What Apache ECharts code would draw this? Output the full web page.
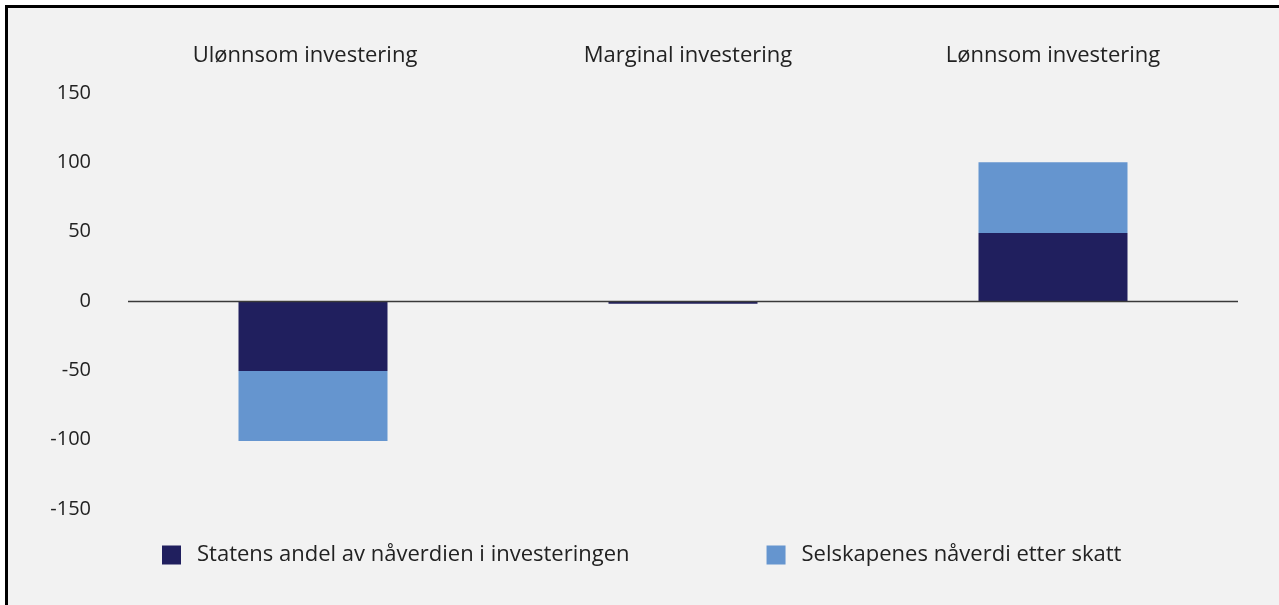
<!DOCTYPE html>
<html>
<head>
<meta charset="utf-8">
<script src="https://cdn.jsdelivr.net/npm/echarts@6/dist/echarts.min.js"></script>
<style>
html,body{margin:0;padding:0;background:#fff;}
#chart{width:1279px;height:605px;}
</style>
</head>
<body>
<div id="chart"></div>
<script>
const categories = ['Ulønnsom investering', 'Marginal investering', 'Lønnsom investering'];
const statensAndel = [-50.5, -2, 49];
const selskapenes = [-50.5, 0, 51];
const seriesNames = ['Statens andel av nåverdien i investeringen', 'Selskapenes nåverdi etter skatt'];
const yTicks = { min: -150, max: 150, interval: 50 };

const font = '"Open Sans", "Noto Sans", sans-serif';
const labelPads = [[0, 16, 0, 0], [0, 0, 0, 10], [0, 0, 0, 0]];
const chart = echarts.init(document.getElementById('chart'), null, { renderer: 'canvas' });
chart.setOption({
  animation: false,
  backgroundColor: '#ffffff',
  graphic: [
    { type: 'rect', z: -10, shape: { x: 5, y: 5, width: 1274, height: 600 }, style: { fill: '#f2f2f2' } },
    { type: 'rect', z: -9, shape: { x: 5, y: 5, width: 1274, height: 3 }, style: { fill: '#000' } },
    { type: 'rect', z: -9, shape: { x: 5, y: 5, width: 3, height: 600 }, style: { fill: '#000' } }
  ],
  grid: { left: 128, right: 41, top: 93, bottom: 96, containLabel: false },
  legend: {
    left: 157, top: 539,
    itemWidth: 19, itemHeight: 19, itemGap: 137,
    icon: 'rect',
    textStyle: { fontFamily: font, fontSize: 22, color: '#222', padding: [0, 0, 0, 11] },
    data: seriesNames
  },
  xAxis: {
    type: 'category',
    position: 'top',
    data: categories.map((c, i) => ({ value: c, textStyle: { padding: labelPads[i] } })),
    axisLine: { show: false, onZero: false },
    axisTick: { show: false },
    axisLabel: { fontFamily: font, fontSize: 22, color: '#222', margin: 26 }
  },
  yAxis: {
    type: 'value',
    min: yTicks.min, max: yTicks.max, interval: yTicks.interval,
    axisLine: { show: false },
    axisTick: { show: false },
    splitLine: { show: false },
    axisLabel: { fontFamily: font, fontSize: 20, color: '#222', margin: 37 }
  },
  series: [
    {
      name: seriesNames[0], type: 'bar', stack: 's', barWidth: 149,
      itemStyle: { color: '#201f5e' },
      data: statensAndel,
      markLine: {
        silent: true, symbol: 'none', label: { show: false },
        lineStyle: { color: '#3a3a3a', width: 1.3, type: 'solid' },
        data: [{ yAxis: 0 }]
      }
    },
    {
      name: seriesNames[1], type: 'bar', stack: 's', barWidth: 149,
      itemStyle: { color: '#6595cf' },
      data: selskapenes
    }
  ]
});
</script>
</body>
</html>
